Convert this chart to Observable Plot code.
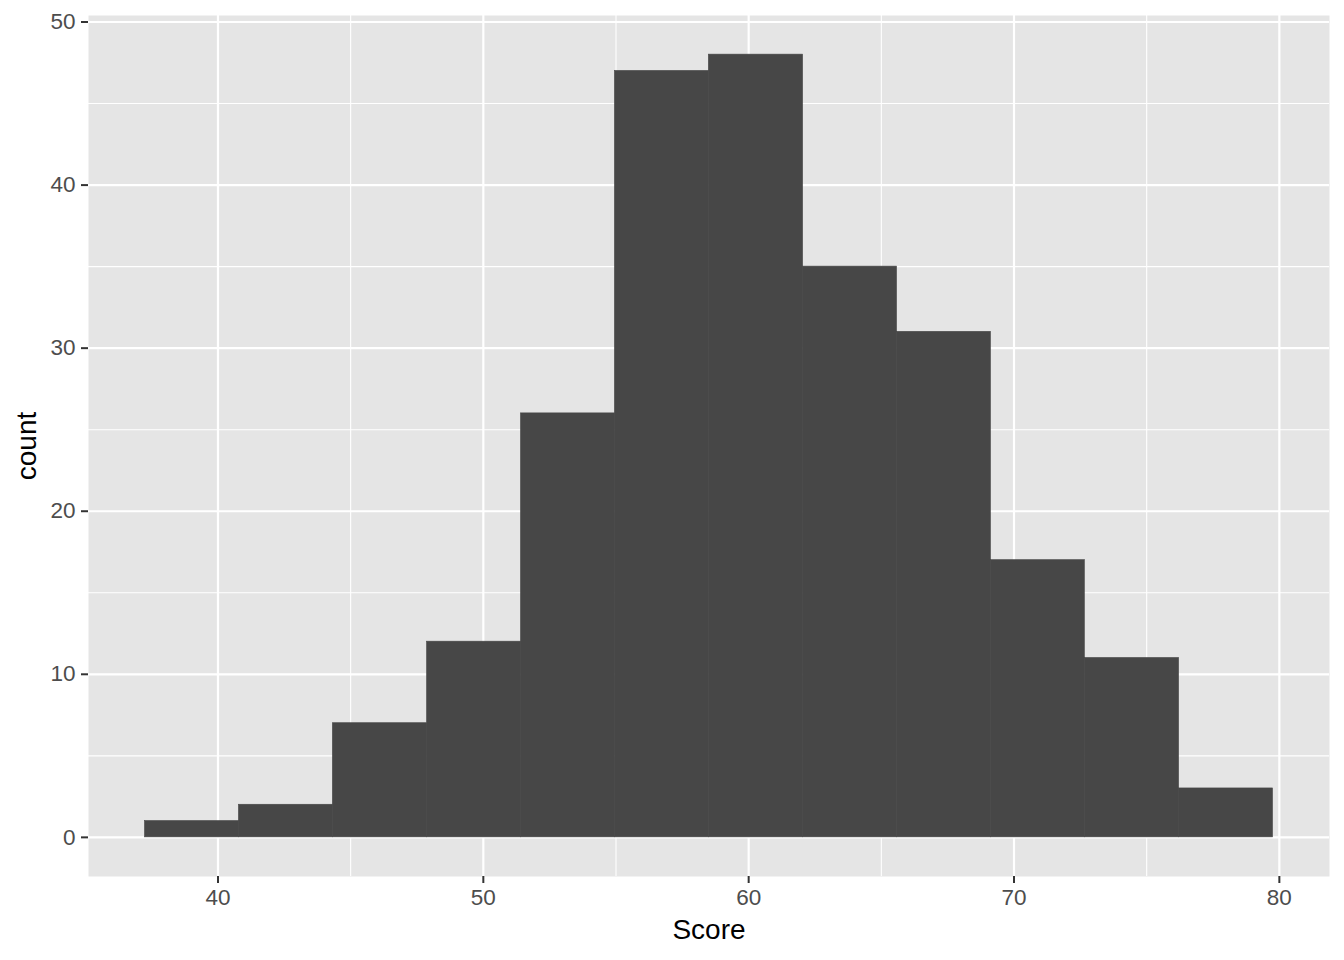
<!DOCTYPE html>
<html><head><meta charset="utf-8">
<script src="https://cdn.jsdelivr.net/npm/d3@7"></script>
<script src="https://cdn.jsdelivr.net/npm/@observablehq/plot@0.6"></script>
<style>body{margin:0;background:#fff}</style>
</head><body><div id="chart"></div>
<script>
const binEdges = [37.25, 40.79, 44.33, 47.88, 51.42, 54.96, 58.50, 62.05, 65.59, 69.13, 72.67, 76.22, 79.76];
const counts = [1, 2, 7, 12, 26, 47, 48, 35, 31, 17, 11, 3];
const xMajorTicks = [40, 50, 60, 70, 80];
const xMinorTicks = [45, 55, 65, 75];
const yMajorTicks = [0, 10, 20, 30, 40, 50];
const yMinorTicks = [5, 15, 25, 35, 45];
const xTitle = "Score";
const yTitle = "count";

const bins = counts.map((c, i) => ({x1: binEdges[i], x2: binEdges[i + 1], count: c}));

const chart = Plot.plot({
  width: 1344, height: 960,
  marginLeft: 88, marginRight: 15, marginTop: 15, marginBottom: 84,
  x: {domain: [35.12, 81.89]},
  y: {domain: [-2.4, 50.4]},
  style: {fontFamily: "'Liberation Sans', Arial, Helvetica, sans-serif", background: "#fff"},
  marks: [
    Plot.frame({fill: "#E5E5E5", stroke: null}),
    Plot.ruleX(xMinorTicks, {x: d => d, stroke: "#fff", strokeWidth: 1.1}),
    Plot.ruleY(yMinorTicks, {y: d => d, stroke: "#fff", strokeWidth: 1.1}),
    Plot.ruleX(xMajorTicks, {x: d => d, stroke: "#fff", strokeWidth: 2.2}),
    Plot.ruleY(yMajorTicks, {y: d => d, stroke: "#fff", strokeWidth: 2.2}),
    Plot.rectY(bins, {x1: "x1", x2: "x2", y1: 0, y2: "count", fill: "#474747", stroke: "#474747", strokeWidth: 0.6, inset: 0}),
    Plot.axisX({ticks: xMajorTicks, tickSize: 7, tickPadding: 6, strokeWidth: 2, stroke: "#333333", color: "#4D4D4D", fontSize: 22.5, label: null}),
    Plot.axisY({ticks: yMajorTicks, tickSize: 7, tickPadding: 6, strokeWidth: 2, stroke: "#333333", color: "#4D4D4D", fontSize: 22.5, label: null}),
    Plot.text([xTitle], {text: d => d, frameAnchor: "bottom", dy: 62, fontSize: 28, fill: "#000"}),
    Plot.text([yTitle], {text: d => d, frameAnchor: "left", dx: -61, rotate: -90, textAnchor: "middle", lineAnchor: "middle", fontSize: 28, fill: "#000"})
  ]
});
document.getElementById("chart").appendChild(chart);
</script>
</body></html>
